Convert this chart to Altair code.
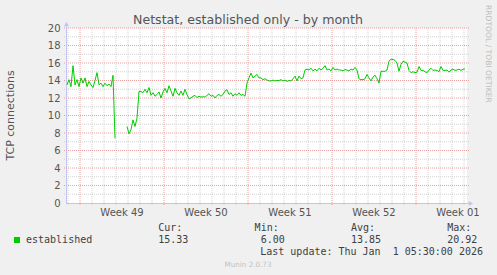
import altair as alt
import pandas as pd

# ---------------- data ----------------
TITLE = "Netstat, established only - by month"
Y_TITLE = "TCP connections"
SERIES = "established"
WEEKS = ["Week 49", "Week 50", "Week 51", "Week 52", "Week 01"]
Y_TICKS = list(range(0, 21, 2))
STAT_NAMES = ["Cur:", "Min:", "Avg:", "Max:"]
STAT_VALUES = ["15.33", "6.00", "13.85", "20.92"]
LAST_UPDATE = "Last update: Thu Jan\u00a0 1 05:30:00 2026"
FOOTER = "Munin 2.0.73"
WATERMARK = "RRDTOOL / TOBI OETIKER"

# time in hours from the left edge of the graph
SPAN_H = 802
FIRST_WEEK_H = 28
STEP_H = 4
START_H = 2
GAP_SAMPLES = 5

values_a = [13.5, 14.1, 13.3, 15.7, 13.5, 14.1, 13.3, 14.3, 13.7, 14.3,
            13.3, 13.9, 13.5, 13.2, 14.0, 14.9, 13.5, 13.7, 13.3, 13.7,
            13.4, 13.6, 13.3, 14.6, 7.4]
values_b = [8.75, 7.9, 8.4, 9.5, 8.75, 9.7, 12.75, 12.75, 12.6, 13.0,
            12.6, 13.2, 12.3, 12.6, 12.2, 12.4, 12.7, 12.0, 12.7, 13.1,
            12.6, 13.4, 12.8, 12.2, 13.1, 12.6, 12.3, 12.8, 12.3, 13.0,
            12.4, 11.9, 12.0, 12.2, 12.3, 12.05, 12.2, 12.1, 12.15, 12.1,
            12.3, 12.5, 12.2, 12.3, 12.0, 12.3, 12.4, 12.2, 12.4, 12.8,
            12.95, 12.4, 12.6, 12.2, 12.5, 12.3, 12.6, 12.3, 12.4, 12.2,
            13.7, 14.3, 14.85, 14.3, 14.5, 14.7, 14.3, 14.3, 14.1, 14.2,
            14.05, 13.95, 13.95, 14.05, 13.95, 14.0, 14.0, 14.1, 13.95, 14.05,
            13.9, 14.0, 13.95, 14.2, 14.5, 13.95, 14.5, 14.2, 14.3, 15.2,
            15.3, 15.2, 15.4, 15.1, 15.3, 15.1, 15.4, 15.2, 15.4, 15.7,
            15.2, 15.3, 15.1, 15.5, 15.2, 15.3, 15.2, 15.2, 15.1, 15.25,
            15.2, 15.1, 15.3, 15.2, 15.5, 15.2, 14.2, 14.1, 14.1, 14.2,
            14.7, 14.3, 13.95, 14.4, 14.6, 14.2, 13.7, 15.05, 15.05, 15.05,
            15.2, 16.2, 16.45, 16.4, 16.3, 16.0, 15.05, 15.85, 16.2, 16.1,
            16.0, 15.15, 14.9, 15.0, 14.9, 14.95, 15.6, 15.15, 15.15, 15.0,
            14.9, 15.2, 15.4, 15.15, 15.2, 15.15, 15.0, 15.6, 15.15, 15.15,
            15.2, 14.95, 15.2, 15.3, 15.15, 15.2, 15.3, 15.15, 15.3, 15.33]

# ---------------- layout ----------------
W, H = 401, 175
PAD = {"left": 66, "top": 28, "right": 497 - 66 - W, "bottom": 275 - 28 - H}

GREEN = "#00cc00"
TEXT = "#555555"
LEG = "#404040"
AXIS_C = "#c4c4f4"
MAJOR_C = "#e8a0a0"
MINOR_C = "#d2d2d2"
SANS = "DejaVu Sans"
MONO = "DejaVu Sans Mono"

xs = alt.Scale(domain=[0, SPAN_H], nice=False, zero=False)
ys = alt.Scale(domain=[0, 20], nice=False, zero=True)
y_axis = alt.Axis(values=Y_TICKS, title=None, ticks=False, domain=False,
                  grid=False, labelPadding=6, labelFont=SANS,
                  labelFontSize=10, labelColor=TEXT)

all_vals = values_a + [None] * GAP_SAMPLES + values_b
rows, seg = [], 0
for i, v in enumerate(all_vals):
    if v is None:
        seg = 1
        continue
    rows.append({"hour": START_H + STEP_H * i, "value": v, "seg": seg})
line_df = pd.DataFrame(rows)

day_hours = list(range(FIRST_WEEK_H % 24, SPAN_H, 24))
week_hours = list(range(FIRST_WEEK_H, SPAN_H, 168))
minor_days = [h for h in day_hours if h not in week_hours]
label_hours = [h + 84 for h in week_hours]

major_y = [v for v in Y_TICKS if v > 0]
minor_y = [v + 1 for v in Y_TICKS[:-1]]

hgrid_minor = alt.Chart(pd.DataFrame({"value": minor_y})).mark_rule(
    color=MINOR_C, strokeDash=[1, 1], strokeWidth=1).encode(
    y=alt.Y("value:Q", scale=ys, axis=y_axis), x=alt.value(-2), x2=alt.value(W + 2))
vgrid_minor = alt.Chart(pd.DataFrame({"hour": minor_days})).mark_rule(
    color=MINOR_C, strokeDash=[1, 1], strokeWidth=1).encode(
    x=alt.X("hour:Q", scale=xs, axis=None), y=alt.value(0), y2=alt.value(H + 2))
hgrid_major = alt.Chart(pd.DataFrame({"value": major_y})).mark_rule(
    color=MAJOR_C, strokeDash=[1, 1], strokeWidth=1).encode(
    y=alt.Y("value:Q", scale=ys, axis=y_axis), x=alt.value(-2), x2=alt.value(W + 2))
vgrid_major = alt.Chart(pd.DataFrame({"hour": week_hours})).mark_rule(
    color=MAJOR_C, strokeDash=[1, 1], strokeWidth=1).encode(
    x=alt.X("hour:Q", scale=xs, axis=None), y=alt.value(0), y2=alt.value(H + 2))

axis_df = pd.DataFrame({"k": [0]})
left_axis = alt.Chart(axis_df).mark_rule(color=AXIS_C, strokeWidth=1).encode(
    x=alt.value(0.5), y=alt.value(-4), y2=alt.value(H))
bottom_axis = alt.Chart(axis_df).mark_rule(color=AXIS_C, strokeWidth=1).encode(
    x=alt.value(0), x2=alt.value(W + 3), y=alt.value(H + 0.5))
up_arrow = alt.Chart(axis_df).mark_point(
    shape="triangle-up", filled=True, size=26, color=AXIS_C, opacity=1).encode(
    x=alt.value(0.5), y=alt.value(-4))
right_arrow = alt.Chart(axis_df).mark_point(
    shape="triangle-right", filled=True, size=26, color=AXIS_C, opacity=1).encode(
    x=alt.value(W + 4), y=alt.value(H + 0.5))

line = alt.Chart(line_df).mark_line(color=GREEN, strokeWidth=1).encode(
    x=alt.X("hour:Q", scale=xs, axis=None),
    y=alt.Y("value:Q", scale=ys, axis=y_axis),
    detail="seg:N",
)

week_labels = alt.Chart(pd.DataFrame({"hour": label_hours, "name": WEEKS})).mark_text(
    font=SANS, fontSize=10, color=TEXT, align="center", baseline="alphabetic").encode(
    x=alt.X("hour:Q", scale=xs, axis=None), y=alt.value(H + 13), text="name:N")


def label(txt, x, y, **kw):
    return alt.Chart(pd.DataFrame({"t": [txt]})).mark_text(**kw).encode(
        x=alt.value(x), y=alt.value(y), text="t:N")


title = label(TITLE, 182, -4.5, font=SANS, fontSize=12.6, color=TEXT,
              align="center", baseline="alphabetic")
ytitle = label(Y_TITLE, -55, H / 2, font=SANS, fontSize=11, color=TEXT,
               align="center", baseline="middle", angle=270)
watermark = label(WATERMARK, 422.3, -23, font=SANS, fontSize=7.6, color="#bdbdbd",
                  align="left", baseline="middle", angle=90)
footer = label(FOOTER, 182, 238.5, font=SANS, fontSize=7.2, color="#c2c2c2",
               align="center", baseline="alphabetic")

CHAR = 6.02
col_x = [92.3 + 16 * CHAR * k for k in range(len(STAT_NAMES))]
stat_heads = alt.Chart(pd.DataFrame({"t": STAT_NAMES, "px": col_x})).mark_text(
    font=MONO, fontSize=10, color=LEG, align="left", baseline="alphabetic").encode(
    x=alt.X("px:Q", scale=None), y=alt.value(203), text="t:N")
stat_vals = alt.Chart(pd.DataFrame({"t": STAT_VALUES,
                                    "px": [c + 5 * CHAR for c in col_x]})).mark_text(
    font=MONO, fontSize=10, color=LEG, align="right", baseline="alphabetic").encode(
    x=alt.X("px:Q", scale=None), y=alt.value(214.7), text="t:N")
series_name = label(SERIES, -40, 214.7, font=MONO, fontSize=10, color=LEG,
                    align="left", baseline="alphabetic")
swatch = alt.Chart(axis_df).mark_square(size=36, color=GREEN, opacity=1).encode(
    x=alt.value(-49), y=alt.value(212))
last_update = label(LAST_UPDATE, 417, 226.5, font=MONO, fontSize=10, color=LEG,
                    align="right", baseline="alphabetic")

chart = alt.layer(
    hgrid_minor, vgrid_minor, hgrid_major, vgrid_major,
    left_axis, bottom_axis, up_arrow, right_arrow,
    line, week_labels, title, ytitle, watermark, footer,
    stat_heads, stat_vals, series_name, swatch, last_update,
).properties(
    width=W, height=H, autosize=alt.AutoSizeParams(type="none"),
    padding=PAD, background="#f0f0f0",
).configure_view(fill="white", strokeWidth=0)

chart.save("out.html", embed_options={"renderer": "svg", "actions": False})
